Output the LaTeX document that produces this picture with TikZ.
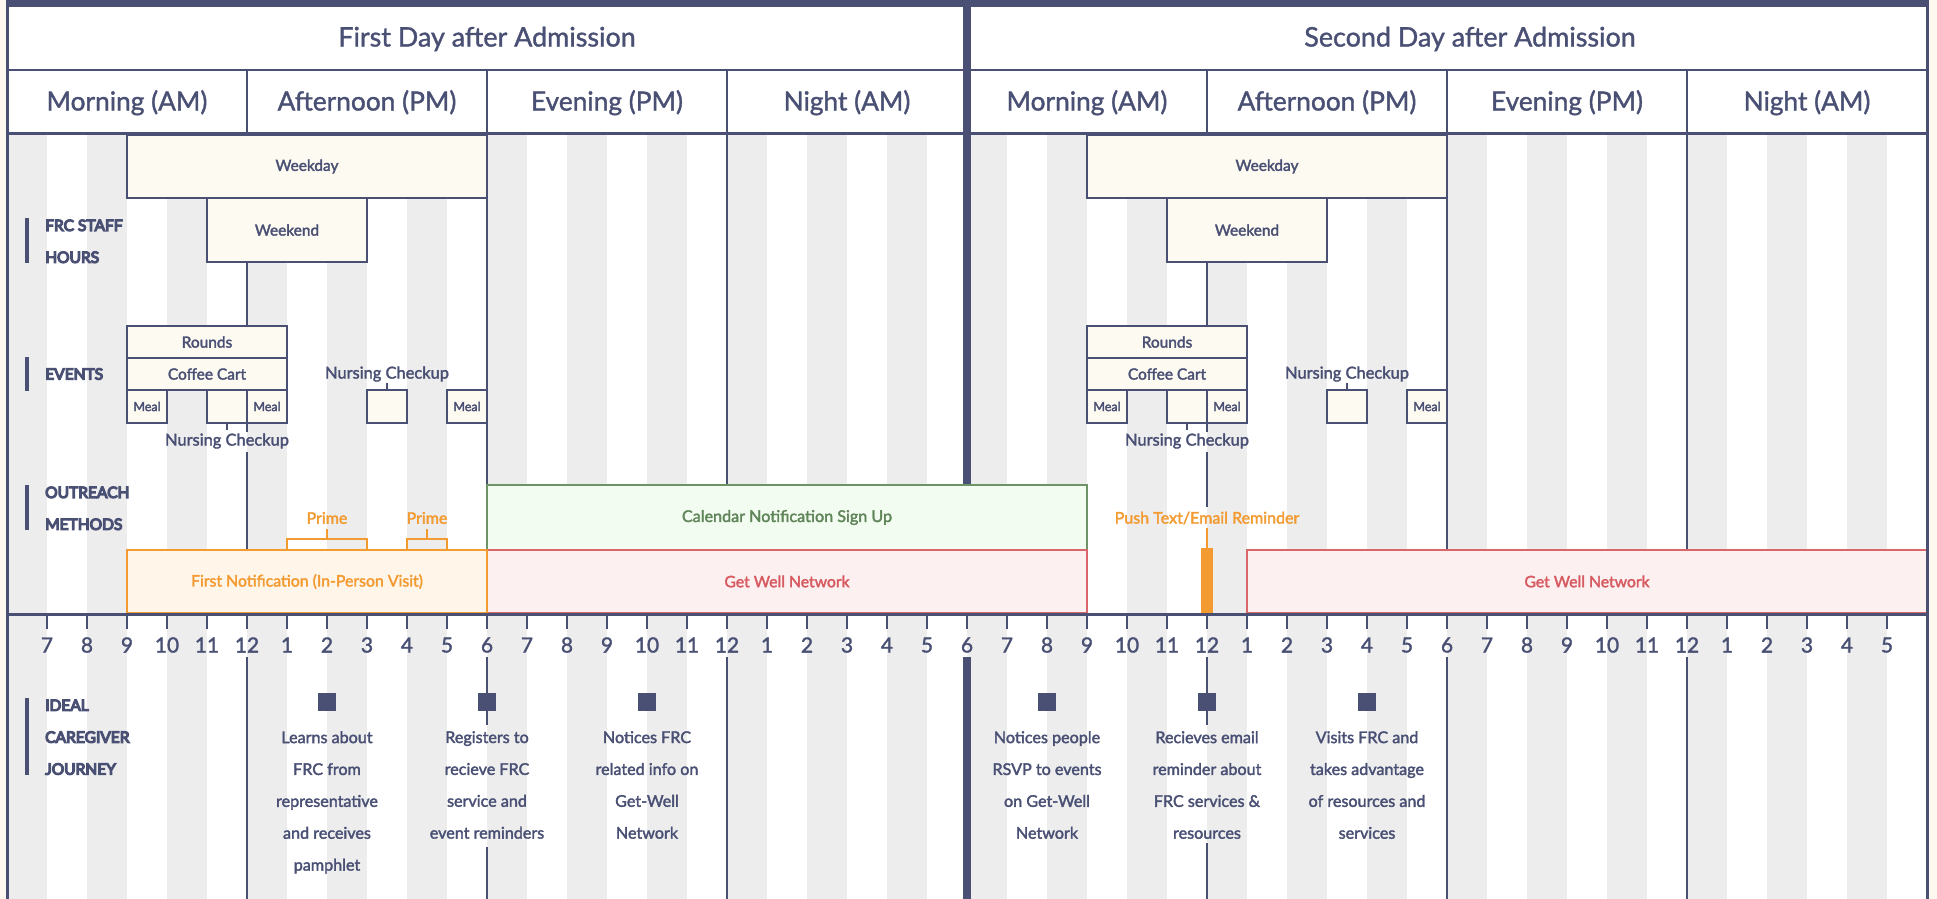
\documentclass[tikz,border=0pt]{standalone}
\usepackage{fontspec}
\setmainfont{Lato}
% stroke the glyph outlines as well as filling them, for a heavier weight
\newcommand\txtweight[1]{\special{pdf:literal direct 2 Tr #1 w}}
\newcommand\medw{\txtweight{0.35}}
\newcommand\heavyw{\txtweight{1.25}}
\definecolor{navy}{HTML}{4A5074}
\definecolor{stripe}{HTML}{EDEDED}
\definecolor{boxfill}{HTML}{FDFAF2}
\definecolor{pagebg}{HTML}{FDF9F0}
\definecolor{orng}{HTML}{F39A30}
\definecolor{orfill}{HTML}{FFF5E9}
\definecolor{redln}{HTML}{D8666B}
\definecolor{redtxt}{HTML}{D65A60}
\definecolor{rdfill}{HTML}{FDF0F0}
\definecolor{grnln}{HTML}{6E9366}
\definecolor{grntxt}{HTML}{5F8559}
\definecolor{grfill}{HTML}{F3FCF1}
% box from (x1,y1) to (x2,y2): name, x1, y1, x2, y2, style, text
\newcommand\tlbox[7]{%
  \pgfmathsetmacro\tlW{(#4)-(#2)}%
  \pgfmathsetmacro\tlH{(#5)-(#3)}%
  \node[#6, anchor=north west, minimum width=\tlW bp, minimum height=\tlH bp,
        inner sep=0pt, outer sep=0pt] (#1) at ({#2},{#3}) {#7};}
\begin{document}
\begin{tikzpicture}[x=1bp,y=-1bp,
  navyln/.style={draw=navy, line width=2.5bp},
  splitln/.style={draw=navy, line width=8bp},
  crbox/.style={draw=navy, line width=2.5bp, fill=boxfill, text=navy, font=\fontsize{15.5}{18}\selectfont\medw},
  mealbox/.style={crbox, font=\fontsize{12.5}{15}\selectfont\medw},
  orbox/.style={draw=orng, line width=2.5bp, fill=orfill, text=orng, font=\fontsize{15.9}{18}\selectfont\medw},
  rdbox/.style={draw=redln, line width=2.5bp, fill=rdfill, text=redtxt, font=\fontsize{15.8}{18}\selectfont\medw},
  grbox/.style={draw=grnln, line width=2.5bp, fill=grfill, text=grntxt, font=\fontsize{16.2}{18}\selectfont\medw},
  ortick/.style={draw=orng, line width=2.5bp},
  evlabel/.style={text=navy, font=\fontsize{16.5}{18}\selectfont\medw, inner sep=0pt},
  orlabel/.style={text=orng, font=\fontsize{16.1}{18}\selectfont\medw, inner sep=0pt},
  seclabel/.style={text=navy, font=\fontsize{15.6}{32}\selectfont\heavyw, align=left, inner sep=0pt},
  secbar/.style={draw=navy, line width=4bp},
  hournum/.style={text=navy, font=\fontsize{21}{24}\selectfont\medw, inner sep=0pt},
  marker/.style={fill=navy, minimum size=18bp, inner sep=0pt},
  journey/.style={text=navy, font=\fontsize{16.2}{32}\selectfont\medw, align=center, anchor=north, inner sep=0pt},
  daytitle/.style={text=navy, font=\fontsize{27}{30}\selectfont\medw, inner sep=0pt, anchor=base},
  period/.style={text=navy, font=\fontsize{26.4}{30}\selectfont\medw, inner sep=0pt, anchor=base}]

% page, header and chart backgrounds
\fill[pagebg] (0,0) rectangle (1937,899);
\useasboundingbox (0,0) rectangle (1937,899);
\fill[white] (7,7) rectangle (1927,899);

% hour stripes
\foreach \k in {0,2,...,46}
  \fill[stripe] ({7+40*\k},133) rectangle ({47+40*\k},899);

% period dividers running down the chart
\draw[navyln] (247,70) -- (247,432) (247,452) -- (247,550) (247,657) -- (247,899);
\draw[navyln] (487,70) -- (487,614) (487,657) -- (487,725) (487,847) -- (487,899);
\draw[navyln] (727,70) -- (727,485) (727,657) -- (727,899);
\draw[navyln] (1207,70) -- (1207,432) (1207,452) -- (1207,507) (1207,657) -- (1207,725) (1207,843) -- (1207,899);
\draw[navyln] (1447,70) -- (1447,550) (1447,657) -- (1447,899);
\draw[navyln] (1687,70) -- (1687,550) (1687,657) -- (1687,899);
\draw[splitln] (967,0) -- (967,485) (967,657) -- (967,899);

% staff hours and events, one set per day
\foreach \d/\o in {1/0,2/960}{
  \tlbox{wkday\d}{127+\o}{135}{487+\o}{198}{crbox}{Weekday}
  \tlbox{wkend\d}{207+\o}{198}{367+\o}{262}{crbox}{Weekend}
  \tlbox{rounds\d}{127+\o}{326}{287+\o}{358}{crbox}{Rounds}
  \tlbox{coffee\d}{127+\o}{358}{287+\o}{390}{crbox}{Coffee Cart}
  \tlbox{mealA\d}{127+\o}{390}{167+\o}{423}{mealbox}{Meal}
  \tlbox{nurseA\d}{207+\o}{390}{247+\o}{423}{crbox}{}
  \tlbox{mealB\d}{247+\o}{390}{287+\o}{423}{mealbox}{Meal}
  \tlbox{nurseB\d}{367+\o}{390}{407+\o}{423}{crbox}{}
  \tlbox{mealC\d}{447+\o}{390}{487+\o}{423}{mealbox}{Meal}
  \node[evlabel] (nurseAlbl\d) at ({227+\o},441) {Nursing Checkup};
  \node[evlabel] (nurseBlbl\d) at ({387+\o},374) {Nursing Checkup};
  \draw[navyln] (nurseA\d.south) -- ++(0,7);
  \draw[navyln] (nurseB\d.north) -- ++(0,-7);
}

% outreach methods
\tlbox{calendar}{487}{485}{1087}{550}{grbox}{Calendar Notification Sign Up}
\tlbox{getwellA}{487}{550}{1087}{613}{rdbox}{Get Well Network}
\tlbox{firstnote}{127}{550}{487}{613}{orbox}{First Notification (In-Person Visit)}
\tlbox{getwellB}{1247}{550}{1927}{613}{rdbox}{Get Well Network}
\draw[ortick] (287,550) -- (287,539) -- (367,539) -- (367,550);
\draw[ortick] (407,550) -- (407,539) -- (447,539) -- (447,550);
\node[orlabel] (primeA) at (327,518) {Prime};
\node[orlabel] (primeB) at (427,518) {Prime};
\draw[ortick] (327,539) -- (327,529);
\draw[ortick] (427,539) -- (427,529);
\node[orlabel] (pushlbl) at (1207,518) {Push Text/Email Reminder};
\fill[orng] (1201,548) rectangle (1213,614);
\coordinate (pushtop) at (1207,548);
\draw[ortick] (pushtop) -- ++(0,-20);

% time axis
\draw[navy, line width=3bp] (7,614.5) -- (1927,614.5);
\foreach \k in {1,...,47}{
  \pgfmathtruncatemacro\hr{mod(6+\k-1,12)+1}
  \draw[navyln] ({7+40*\k},614) -- ({7+40*\k},629);
  \node[hournum] (hn\k) at ({7+40*\k},645) {\hr};
}

% frame and header rows
\draw[navy, line width=3bp] (7.5,0) -- (7.5,899);
\draw[navy, line width=3bp] (1927.5,0) -- (1927.5,899);
\fill[navy] (6,0) rectangle (1929,7);
\draw[navyln] (7,70) -- (1927,70);
\draw[navyln] (7,133.5) -- (1927,133.5);
\draw[splitln] (967,0) -- (967,133);
\node[daytitle] (day1) at (487,46.5) {First Day after Admission};
\node[daytitle] (day2) at (1470,46.5) {Second Day after Admission};
\foreach \n/\x/\t in {mA/127/Morning (AM), aA/367/Afternoon (PM), eA/607/Evening (PM), nA/847/Night (AM),
                       mB/1087/Morning (AM), aB/1327/Afternoon (PM), eB/1567/Evening (PM), nB/1807/Night (AM)}
  \node[period] (\n) at (\x,110.5) {\t};

% section labels
\draw[secbar] (27,218) -- (27,263);
\node[seclabel, anchor=north west] (lblstaff) at (45,219.5) {FRC STAFF\\HOURS};
\draw[secbar] (27,357) -- (27,391);
\node[seclabel, anchor=west] (lblevents) at (45,374) {EVENTS};
\draw[secbar] (27,485) -- (27,530);
\node[seclabel, anchor=north west] (lbloutreach) at (45,486.5) {OUTREACH\\METHODS};
\draw[secbar] (27,698) -- (27,775);
\node[seclabel, anchor=north west] (lbljourney) at (45,699.5) {IDEAL\\CAREGIVER\\JOURNEY};

% caregiver journey steps
\foreach \n/\x/\t in {
  jA/327/{Learns about\\FRC from\\representative\\and receives\\pamphlet},
  jB/487/{Registers to\\recieve FRC\\service and\\event reminders},
  jC/647/{Notices FRC\\related info on\\Get-Well\\Network},
  jD/1047/{Notices people\\RSVP to events\\on Get-Well\\Network},
  jE/1207/{Recieves email\\reminder about\\FRC services \&\\resources},
  jF/1367/{Visits FRC and\\takes advantage\\of resources and\\services}}{
  \node[marker] (\n mark) at (\x,702) {};
  \node[journey] (\n txt) at (\x,731) {\t};
}
\end{tikzpicture}
\end{document}
